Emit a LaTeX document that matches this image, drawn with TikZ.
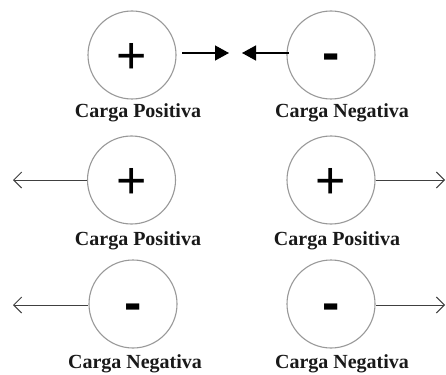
\documentclass[tikz,border=0pt]{standalone}
\usepackage{fontspec}
\setmainfont{Liberation Serif}
\newfontfamily\signfont{Liberation Sans}
\usetikzlibrary{arrows.meta}
\begin{document}
\begin{tikzpicture}[x=1pt,y=-1pt,
  charge/.style={circle, draw=black!40, line width=1.1pt, minimum size=88pt, inner sep=0pt},
  sign/.style={anchor=base, inner sep=0pt, font=\signfont\fontsize{52}{52}\selectfont},
  minus/.style={sign, font=\signfont\bfseries\fontsize{52}{52}\selectfont},
  lab/.style={anchor=base, inner sep=0pt, font=\fontsize{20}{20}\selectfont\bfseries, text=black!90},
  attract/.style={line width=1.3pt, -{Triangle[length=14pt,width=15pt]}},
  repel/.style={line width=0.9pt, draw=black!75, -{Straight Barb[length=8pt,width=16pt,line width=1pt]}}]
\useasboundingbox[fill=white] (0,0) rectangle (446,374);
% row 1
\node[charge] (c1) at (132,55) {};
\node[charge] (c2) at (331,55) {};
\node[sign] (s1) at (132,73.8) {+};
\node[minus] (s2) at (331,70.3) {-};
\node[lab] (l1) at (138,118) {Carga Positiva};
\node[lab] (l2) at (342,118) {Carga Negativa};
\coordinate (a1s) at (182,53);
\coordinate (a1e) at (229,53);
\coordinate (a2s) at (289,53);
\coordinate (a2e) at (242,53);
\draw[attract] (a1s) -- (a1e);
\draw[attract] (a2s) -- (a2e);
% row 2
\node[charge] (c3) at (131.5,180) {};
\node[charge] (c4) at (331,180) {};
\node[sign] (s3) at (131.5,198.8) {+};
\node[sign] (s4) at (331,198.8) {+};
\node[lab] (l3) at (138,245) {Carga Positiva};
\node[lab] (l4) at (337,245) {Carga Positiva};
\coordinate (a3e) at (13,180);
\coordinate (a4e) at (445,180);
\draw[repel] (c3.west) -- (a3e);
\draw[repel] (c4.east) -- (a4e);
% row 3
\node[charge] (c5) at (133,304) {};
\node[charge] (c6) at (331,304) {};
\node[minus] (s5) at (133,320.3) {-};
\node[minus] (s6) at (331,320.3) {-};
\node[lab] (l5) at (135,368) {Carga Negativa};
\node[lab] (l6) at (342,368) {Carga Negativa};
\coordinate (a5e) at (13,305);
\coordinate (a6e) at (445,305);
\draw[repel] (c5.west |- a5e) -- (a5e);
\draw[repel] (c6.east |- a6e) -- (a6e);
\end{tikzpicture}
\end{document}
